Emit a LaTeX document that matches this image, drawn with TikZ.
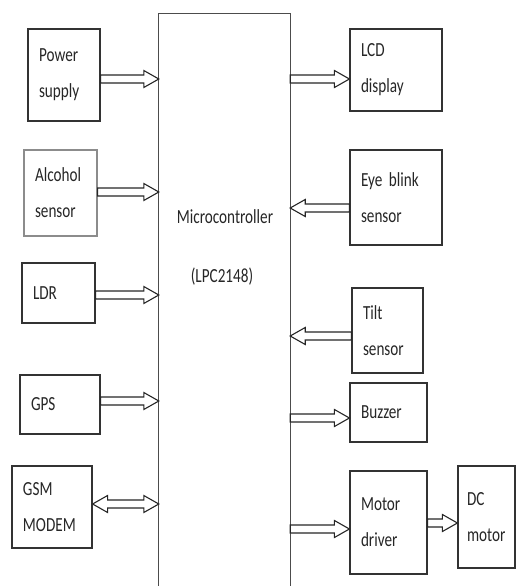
\documentclass[tikz,border=0pt]{standalone}
\usepackage{fontspec}
\newfontfamily\cf{Carlito}[FakeStretch=0.76]
\usetikzlibrary{calc}
\begin{document}
\tikzset{
  lbl/.style={font={\cf\fontsize{20}{36}\selectfont}, text=black!85},
  blk/.style={lbl, draw=black!80, line width=1.2pt, align=left, inner xsep=11pt, inner ysep=0pt},
  mcline/.style={draw=black!70, line width=1.1pt},
  arr/.style={draw=black!85, line width=1.1pt, fill=white, line join=miter},
  barrow/.style={to path={let \p1=(\tikztostart), \p2=(\tikztotarget), \n1={ifthenelse(\x2>\x1,1,-1)} in
     (\x1,{\y1-4pt}) -- ({\x2-\n1*15pt},{\y1-4pt}) -- ({\x2-\n1*15pt},{\y1-8.5pt}) -- (\x2,\y1)
     -- ({\x2-\n1*15pt},{\y1+8.5pt}) -- ({\x2-\n1*15pt},{\y1+4pt}) -- (\x1,{\y1+4pt}) -- cycle}},
  dbarrow/.style={to path={let \p1=(\tikztostart), \p2=(\tikztotarget), \n1={ifthenelse(\x2>\x1,1,-1)} in
     (\x1,\y1) -- ({\x1+\n1*15pt},{\y1-8.5pt}) -- ({\x1+\n1*15pt},{\y1-4pt}) -- ({\x2-\n1*15pt},{\y1-4pt})
     -- ({\x2-\n1*15pt},{\y1-8.5pt}) -- (\x2,\y1) -- ({\x2-\n1*15pt},{\y1+8.5pt}) -- ({\x2-\n1*15pt},{\y1+4pt})
     -- ({\x1+\n1*15pt},{\y1+4pt}) -- ({\x1+\n1*15pt},{\y1+8.5pt}) -- cycle}},
}
\begin{tikzpicture}[x=1pt,y=-1pt]
\useasboundingbox (0,0) rectangle (519,586);
% microcontroller
\node[minimum width=131pt, minimum height=572pt, inner sep=0pt] (mc) at (224.5,300) {};
\draw[mcline] (mc.south west) -- (mc.north west) -- (mc.north east) -- (mc.south east);
\node[lbl] (mct) at (225,217) {Microcontroller};
\node[lbl] (mcp) at (222,277) {(LPC2148)};
% left blocks
\node[blk, minimum width=72pt, minimum height=92pt, text width=50pt] (pw) at (64,75) {Power\\supply};
\node[blk, draw=black!45, minimum width=73pt, minimum height=86pt, text width=51pt] (al) at (60.5,193) {Alcohol\\sensor};
\node[blk, minimum width=73pt, minimum height=60pt, text width=51pt] (ldr) at (58.5,293) {LDR};
\node[blk, minimum width=80pt, minimum height=59pt, text width=58pt] (gps) at (60,404.5) {GPS};
\node[blk, minimum width=80pt, minimum height=82pt, text width=58pt] (gsm) at (52,507) {GSM\\MODEM};
% right blocks
\node[blk, minimum width=92pt, minimum height=82pt, text width=70pt] (lcd) at (396,70) {LCD\\display};
\node[blk, minimum width=92pt, minimum height=95pt, text width=70pt] (eye) at (396,197.5) {Eye blink\\sensor};
\node[blk, minimum width=71pt, minimum height=85pt, text width=49pt] (tilt) at (387.5,330.5) {Tilt\\sensor};
\node[blk, minimum width=77pt, minimum height=59pt, text width=55pt] (buz) at (388.5,412.5) {Buzzer};
\node[blk, minimum width=77pt, minimum height=103pt, text width=55pt] (md) at (388.5,522.5) {Motor\\driver};
\node[blk, minimum width=57pt, minimum height=102pt, text width=39pt, inner xsep=9pt] (dc) at (486.5,517) {DC\\motor};
% arrows
\draw[arr] (pw.east |- 0,79) to[barrow] (mc.west |- 0,79);
\draw[arr] (al.east |- 0,192) to[barrow] (mc.west |- 0,192);
\draw[arr] (ldr.east |- 0,295) to[barrow] (mc.west |- 0,295);
\draw[arr] (gps.east |- 0,401) to[barrow] (mc.west |- 0,401);
\draw[arr] (gsm.east |- 0,504) to[dbarrow] (mc.west |- 0,504);
\draw[arr] (mc.east |- 0,79) to[barrow] (lcd.west |- 0,79);
\draw[arr] (eye.west |- 0,208) to[barrow] (mc.east |- 0,208);
\draw[arr] (tilt.west |- 0,336) to[barrow] (mc.east |- 0,336);
\draw[arr] (mc.east |- 0,418) to[barrow] (buz.west |- 0,418);
\draw[arr] (mc.east |- 0,529) to[barrow] (md.west |- 0,529);
\draw[arr] (md.east |- 0,523) to[barrow] (dc.west |- 0,523);
\end{tikzpicture}
\end{document}
